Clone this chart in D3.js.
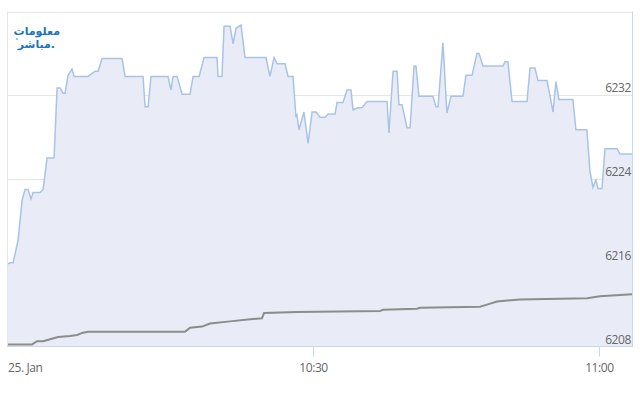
<!DOCTYPE html>
<html>
<head>
<meta charset="utf-8">
<script src="https://cdnjs.cloudflare.com/ajax/libs/d3/7.8.5/d3.min.js"></script>
<style>
  html, body { margin: 0; padding: 0; background: #fff; }
  svg { display: block; }
</style>
</head>
<body>
<svg id="chart" width="640" height="400"></svg>
<script>
// price series (time, value)
var priceTimes = ["09:58:00", "09:58:13", "09:58:32", "09:59:03", "09:59:29", "09:59:47", "10:00:06", "10:00:25",
  "10:00:38", "10:01:22", "10:01:41", "10:02:06", "10:02:50", "10:03:09", "10:03:28", "10:03:47", "10:03:59",
  "10:04:18", "10:04:43", "10:04:56", "10:06:24", "10:07:08", "10:07:27", "10:07:52", "10:09:58", "10:10:17",
  "10:12:10", "10:12:23", "10:12:42", "10:13:00", "10:14:47", "10:15:06", "10:15:19", "10:15:44", "10:16:16",
  "10:17:06", "10:17:25", "10:18:03", "10:18:34", "10:19:56", "10:20:02", "10:20:27", "10:20:40", "10:21:18",
  "10:21:37", "10:21:55", "10:22:27", "10:22:52", "10:25:04", "10:25:29", "10:25:55", "10:26:14", "10:27:04",
  "10:27:23", "10:27:54", "10:28:13", "10:28:19", "10:28:32", "10:29:03", "10:29:29", "10:29:54", "10:30:19",
  "10:30:44", "10:31:16", "10:31:35", "10:32:19", "10:32:31", "10:33:09", "10:33:34", "10:33:59", "10:34:12",
  "10:34:43", "10:35:08", "10:35:40", "10:37:46", "10:37:58", "10:38:24", "10:38:49", "10:39:01", "10:39:20",
  "10:39:52", "10:40:11", "10:40:36", "10:40:48", "10:41:07", "10:42:35", "10:42:54", "10:43:07", "10:43:38",
  "10:44:03", "10:44:29", "10:45:44", "10:46:03", "10:46:41", "10:47:12", "10:47:25", "10:47:50", "10:49:56",
  "10:50:09", "10:50:27", "10:50:53", "10:52:27", "10:52:46", "10:53:17", "10:53:36", "10:54:33", "10:55:11",
  "10:55:29", "10:55:48", "10:57:16", "10:57:35", "10:58:44", "10:59:03", "10:59:22", "10:59:41", "10:59:54",
  "11:00:19", "11:00:38", "11:01:54", "11:02:12", "11:03:28"];
var priceValues = [6215.9, 6216.0, 6216.0, 6218.1, 6222.0, 6223.0, 6223.0, 6222.1,
  6222.7, 6222.7, 6223.0, 6226.0, 6226.0, 6232.7, 6232.7, 6232.2, 6232.2,
  6233.9, 6234.5, 6233.8, 6233.8, 6234.3, 6234.3, 6235.5, 6235.5, 6233.8,
  6233.8, 6230.9, 6230.9, 6233.8, 6233.8, 6232.5, 6233.8, 6233.8, 6232.1,
  6232.1, 6233.8, 6233.8, 6235.6, 6235.6, 6233.8, 6233.8, 6238.6, 6238.6,
  6236.9, 6238.4, 6238.7, 6235.6, 6235.6, 6233.8, 6235.6, 6235.0, 6235.0,
  6233.8, 6233.8, 6229.9, 6230.1, 6228.7, 6230.4, 6227.4, 6230.4, 6230.4,
  6229.9, 6229.9, 6230.2, 6230.2, 6231.3, 6231.3, 6232.5, 6232.5, 6230.6,
  6230.8, 6230.8, 6231.4, 6231.4, 6228.4, 6234.3, 6234.3, 6231.1, 6231.1,
  6228.9, 6228.9, 6234.8, 6234.8, 6231.9, 6231.9, 6230.9, 6230.9, 6237.0,
  6230.3, 6231.9, 6231.9, 6233.9, 6233.9, 6236.0, 6236.0, 6234.8, 6234.8,
  6235.2, 6235.2, 6231.4, 6231.4, 6234.6, 6234.6, 6233.4, 6233.4, 6230.4,
  6233.3, 6231.6, 6231.6, 6228.7, 6228.7, 6224.8, 6223.2, 6223.9, 6223.1,
  6223.1, 6226.9, 6226.9, 6226.4, 6226.4];

// second (grey) series
var avgTimes = ["09:58:00", "10:00:31", "10:01:03", "10:01:41", "10:02:25", "10:03:15", "10:04:31", "10:05:15",
  "10:05:46", "10:06:24", "10:16:34", "10:17:06", "10:18:21", "10:19:12", "10:21:18", "10:23:24", "10:24:39",
  "10:24:52", "10:28:19", "10:37:02", "10:37:21", "10:40:55", "10:41:13", "10:47:31", "10:48:15", "10:49:18",
  "10:51:43", "10:58:45", "11:00:06", "11:03:28"];
var avgValues = [6208.2, 6208.2, 6208.5, 6208.5, 6208.7, 6208.9, 6209.0, 6209.1,
  6209.3, 6209.4, 6209.4, 6209.8, 6209.9, 6210.2, 6210.4, 6210.6, 6210.7,
  6211.2, 6211.3, 6211.4, 6211.5, 6211.6, 6211.7, 6211.8, 6212.0, 6212.3,
  6212.5, 6212.6, 6212.8, 6213.0];

var yTicks = [6208, 6216, 6224, 6232, 6240];
var xTicks = ["10:00:00", "10:30:00", "11:00:00"];
var xTickLabels = ["25. Jan", "10:30", "11:00"];

var parseTime = d3.timeParse("%H:%M:%S");

var price = priceTimes.map(function (t, i) { return { t: parseTime(t), v: priceValues[i] }; });
var avg = avgTimes.map(function (t, i) { return { t: parseTime(t), v: avgValues[i] }; });

var svg = d3.select("#chart");
var plot = { left: 8, right: 632, top: 11.5, bottom: 346.5 };

var x = d3.scaleTime()
  .domain([parseTime("09:58:00"), parseTime("11:03:28")])
  .range([plot.left, plot.right]);

var y = d3.scaleLinear()
  .domain([6208, 6240])
  .range([plot.bottom, plot.top]);

var labelFont = "'Open Sans', sans-serif";

// horizontal grid lines
svg.append("g")
  .selectAll("line")
  .data(yTicks.slice(1))
  .enter().append("line")
  .attr("x1", plot.left - 1).attr("x2", plot.right)
  .attr("y1", function (d) { return Math.round(y(d)) + 0.5; })
  .attr("y2", function (d) { return Math.round(y(d)) + 0.5; })
  .attr("stroke", "#e6e6e6")
  .attr("stroke-width", 1);

// left edge
svg.append("line")
  .attr("x1", plot.left - 0.5).attr("x2", plot.left - 0.5)
  .attr("y1", plot.top).attr("y2", plot.bottom)
  .attr("stroke", "#e6e6e6");

// area + line
var area = d3.area()
  .x(function (d) { return x(d.t); })
  .y0(y(6208))
  .y1(function (d) { return y(d.v); });

var line = d3.line()
  .x(function (d) { return x(d.t); })
  .y(function (d) { return y(d.v); });

svg.append("path")
  .datum(price)
  .attr("d", area)
  .attr("fill", "#e9ecf6");

svg.append("path")
  .datum(price)
  .attr("d", line)
  .attr("fill", "none")
  .attr("stroke", "#a9c3e6")
  .attr("stroke-width", 1.5);

svg.append("path")
  .datum(avg)
  .attr("d", line)
  .attr("fill", "none")
  .attr("stroke", "#8c8c8c")
  .attr("stroke-width", 2);

// right border
svg.append("line")
  .attr("x1", plot.right + 0.5).attr("x2", plot.right + 0.5)
  .attr("y1", plot.top).attr("y2", plot.bottom)
  .attr("stroke", "#ccd6eb");

var xAxis = d3.axisBottom(x)
  .tickValues(xTicks.slice(1).map(parseTime))
  .tickSize(10)
  .tickFormat(function (d, i) { return xTickLabels[i + 1]; });

var gx = svg.append("g")
  .attr("transform", "translate(0," + plot.bottom + ")")
  .call(xAxis);
gx.select(".domain").attr("d", "M" + (plot.left - 1) + ",0H" + (plot.right + 1)).attr("stroke", "#ccd6eb");
gx.selectAll(".tick line").attr("stroke", "#ccd6eb");
gx.selectAll(".tick text")
  .attr("y", 17)
  .attr("fill", "#666")
  .style("font-family", labelFont)
  .style("font-size", "12px")
  .style("letter-spacing", "-0.4px");

// first label sits at the left edge
svg.append("text")
  .attr("x", plot.left)
  .attr("y", plot.bottom + 25)
  .attr("fill", "#666")
  .style("font-family", labelFont)
  .style("font-size", "12px")
  .style("letter-spacing", "-0.4px")
  .text(xTickLabels[0]);

// y labels, right aligned above grid lines
svg.append("g")
  .selectAll("text")
  .data(yTicks.slice(0, 4))
  .enter().append("text")
  .attr("x", plot.right - 1)
  .attr("y", function (d) { return y(d) - 3; })
  .attr("text-anchor", "end")
  .attr("fill", "#666")
  .style("font-family", labelFont)
  .style("font-size", "12px")
  .style("letter-spacing", "-0.4px")
  .text(function (d) { return d; });

// logo
var logo = svg.append("g")
  .attr("fill", "#1b75bc")
  .style("font-family", "'DejaVu Sans', sans-serif")
  .style("font-weight", "bold")
  .style("font-size", "11px")
  .attr("text-anchor", "end");
logo.append("text").attr("x", 60).attr("y", 35).text("معلومات");
logo.append("text").attr("x", 55).attr("y", 48).text("مباشر.");
logo.append("circle").attr("cx", 17).attr("cy", 39).attr("r", 0.8);
</script>
</body>
</html>
